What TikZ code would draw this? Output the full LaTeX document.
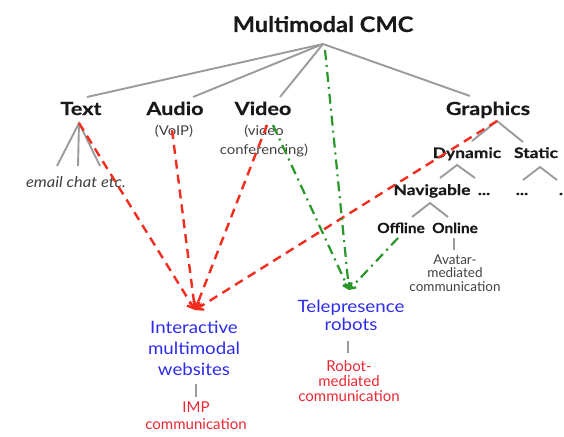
\documentclass[tikz,border=0pt]{standalone}
\usepackage{fontspec}
\setmainfont{Lato}
\newfontfamily\widefont{Lato}[FakeStretch=1.2,BoldFeatures={FakeBold=0.5}]
\newfontfamily\midfont{Lato}[FakeStretch=1.1,BoldFeatures={FakeBold=0.4}]
\usetikzlibrary{arrows.meta}
\definecolor{treegray}{RGB}{155,155,155}
\definecolor{dred}{RGB}{240,45,30}
\definecolor{dgreen}{RGB}{40,150,40}
\definecolor{tblue}{RGB}{45,45,235}
\definecolor{tred}{RGB}{235,40,50}
\definecolor{tdark}{RGB}{25,25,25}
\definecolor{tgray}{RGB}{65,65,65}
\begin{document}
\begin{tikzpicture}[x=1pt,y=-1pt,
  tree/.style={draw=treegray,line width=1.9pt},
  sep/.style={draw=treegray,line width=1.4pt},
  redlink/.style={draw=dred,line width=2.4pt,dash pattern=on 9pt off 6pt,-{Straight Barb[length=6pt,width=9pt]}},
  greenlink/.style={draw=dgreen,line width=2.2pt,dash pattern=on 10pt off 5pt on 2pt off 5pt,-{Straight Barb[length=5pt,width=7pt]}},
  lbl/.style={inner sep=0pt,anchor=base},
  titlef/.style={lbl,font=\midfont\fontsize{21.5}{24}\selectfont\bfseries,text=tdark},
  catf/.style={lbl,font=\widefont\fontsize{18}{20}\selectfont\bfseries,text=tdark},
  subf/.style={lbl,font=\midfont\fontsize{13.5}{15}\selectfont,text=tgray,align=center},
  smallcat/.style={lbl,font=\widefont\fontsize{14.5}{16}\selectfont\bfseries,text=tdark},
  leafcat/.style={lbl,font=\midfont\fontsize{14}{16}\selectfont\bfseries,text=tdark},
  bluef/.style={lbl,font=\midfont\fontsize{17}{21}\selectfont,text=tblue,align=center},
  redf/.style={lbl,font=\fontsize{15}{17.5}\selectfont,text=tred,align=center},
  avf/.style={lbl,font=\fontsize{13.5}{13.5}\selectfont,text=tgray,align=center},
]
\useasboundingbox (0,0) rectangle (564,436);

% labels (multi-line nodes: base = baseline of last line)
\node[titlef] (cmc) at (323,32) {Multimodal CMC};
\node[catf] (text) at (81,115) {Text};
\node[catf] (audio) at (175,115) {Audio};
\node[catf] (video) at (263,115) {Video};
\node[catf] (graphics) at (488,115) {Graphics};
\node[subf] (voip) at (174,135) {(VoIP)};
\node[subf,font=\midfont\fontsize{13.5}{19}\selectfont] (vidconf) at (264,154) {(video\\conferencing)};
\node[lbl,font=\midfont\fontsize{15}{16}\selectfont\itshape,text=tgray] (email) at (76,187) {email chat etc.};
\node[smallcat] (dynamic) at (467,158) {Dynamic};
\node[smallcat] (static) at (536,158) {Static};
\node[smallcat] (navigable) at (432,195) {Navigable};
\node[smallcat] (dots1) at (484,195) {...};
\node[smallcat] (dots2) at (522,195) {...};
\node[smallcat] (dots3) at (561,195) {.};
\node[leafcat] (offline) at (401,233) {Offline};
\node[leafcat] (online) at (455,233) {Online};
\node[avf] (avatar) at (455,291) {Avatar-\\mediated\\communication};
\node[bluef,font=\midfont\fontsize{17}{18}\selectfont] (tele) at (351,330) {Telepresence\\robots};
\node[redf,font=\fontsize{15}{15}\selectfont] (robot) at (349,401) {Robot-\\mediated\\communication};
\node[bluef] (web) at (194,375) {Interactive\\multimodal\\websites};
\node[redf,font=\fontsize{15}{17}\selectfont] (imp) at (196,429) {IMP\\communication};

% tree anchor points
\coordinate (root) at (323,44);
\coordinate (textTop) at (87,97);
\coordinate (audioTop) at (193,97);
\coordinate (videoTop) at (280,97);
\coordinate (graphicsTop) at (470,96);
\coordinate (textApex) at (79,123);
\coordinate (tl1) at (57,166);
\coordinate (tl2) at (78,166);
\coordinate (tl3) at (100,166);
\coordinate (gApex) at (497,121);
\coordinate (gl1) at (472,141);
\coordinate (gl2) at (523,142);
\coordinate (dApex) at (457,165);
\coordinate (dl1) at (440,178);
\coordinate (dl2) at (475,178);
\coordinate (sApex) at (540,167);
\coordinate (sl1) at (523,180);
\coordinate (sl2) at (557,180);
\coordinate (nApex) at (430,203);
\coordinate (nl1) at (412,217);
\coordinate (nl2) at (448,217);
\coordinate (onA) at (454,238);
\coordinate (onB) at (454,250);
\coordinate (teA) at (348,341);
\coordinate (teB) at (348,353);
\coordinate (weA) at (196,384);
\coordinate (weB) at (196,397);

\draw[tree] (root) -- (textTop);
\draw[tree] (root) -- (audioTop);
\draw[tree] (root) -- (videoTop);
\draw[tree] (root) -- (graphicsTop);
\draw[tree] (tl1) -- (textApex) -- (tl3);
\draw[tree] (textApex) -- (tl2);
\draw[tree] (gl1) -- (gApex) -- (gl2);
\draw[tree] (dl1) -- (dApex) -- (dl2);
\draw[tree] (sl1) -- (sApex) -- (sl2);
\draw[tree] (nl1) -- (nApex) -- (nl2);
\draw[sep] (onA) -- (onB);
\draw[sep] (teA) -- (teB);
\draw[sep] (weA) -- (weB);

% red links
\coordinate (webTip) at (195,310);
\coordinate (audioStart) at (172,130);
\coordinate (videoStartR) at (267,125);
\draw[redlink] (textApex) -- (webTip);
\draw[redlink] (audioStart) -- (webTip);
\draw[redlink] (videoStartR) -- (webTip);
\draw[redlink] (gApex) -- (webTip);

% green links
\coordinate (teleTip) at (349,290);
\coordinate (greenRoot) at (325,50);
\coordinate (videoStartG) at (273,125);
\coordinate (offlineStart) at (398,238);
\draw[greenlink] (greenRoot) -- (teleTip);
\draw[greenlink] (videoStartG) -- (teleTip);
\draw[greenlink] (offlineStart) -- (teleTip);
\end{tikzpicture}
\end{document}
